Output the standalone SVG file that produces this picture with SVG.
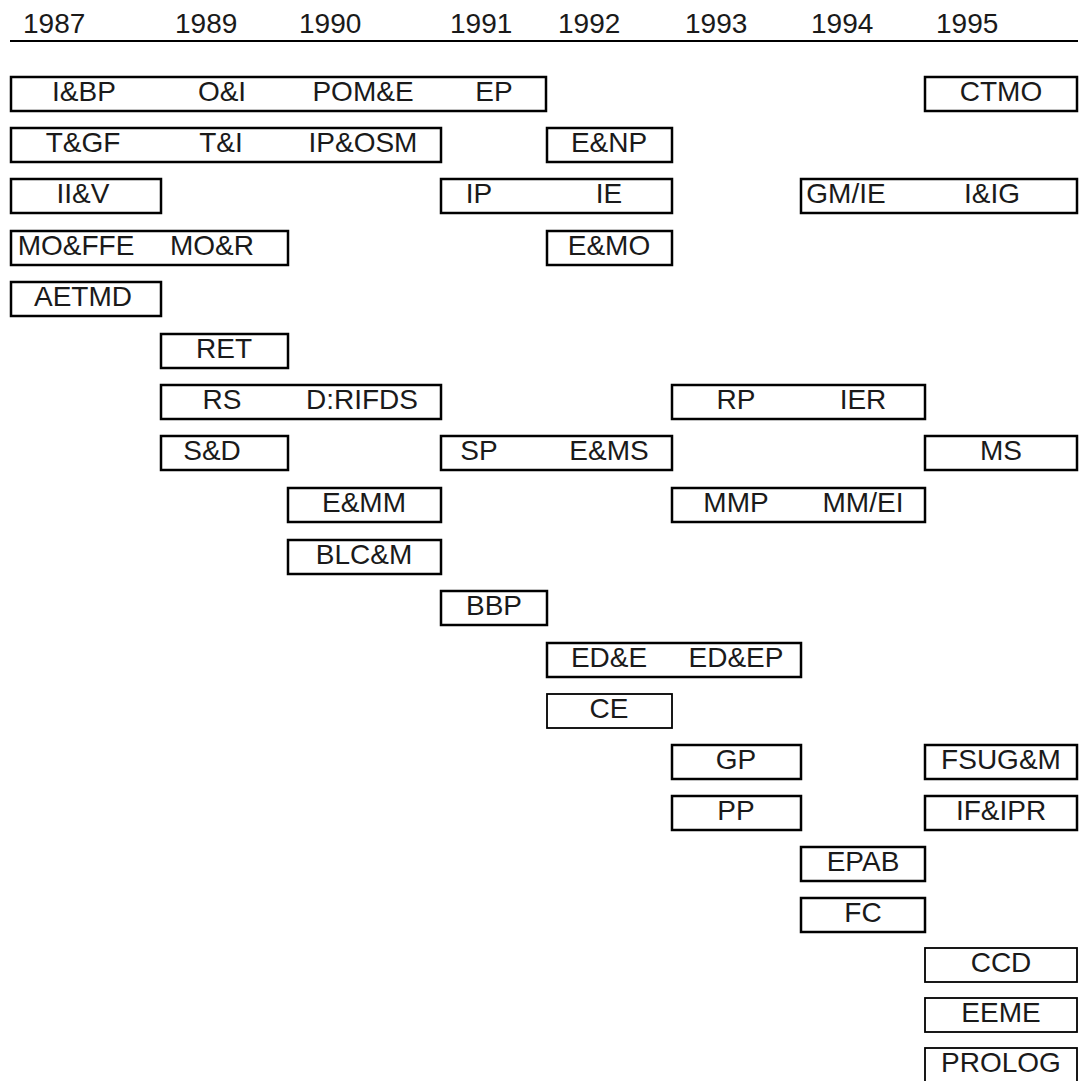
<svg xmlns="http://www.w3.org/2000/svg" width="1080" height="1081" viewBox="0 0 1080 1081">
<style>
.bx{fill:#fff;stroke:#000;stroke-width:2.5}
.t{font-family:"Liberation Sans",Arial,sans-serif;font-size:28px;fill:#1a1a1a;text-anchor:middle}
.y{font-family:"Liberation Sans",Arial,sans-serif;font-size:28px;fill:#1a1a1a}
</style>
<rect width="1080" height="1081" fill="#fff"/>
<g id="years">
<text class="y" x="23" y="33">1987</text>
<text class="y" x="175" y="33">1989</text>
<text class="y" x="299" y="33">1990</text>
<text class="y" x="450" y="33">1991</text>
<text class="y" x="558" y="33">1992</text>
<text class="y" x="685" y="33">1993</text>
<text class="y" x="811" y="33">1994</text>
<text class="y" x="936" y="33">1995</text>
</g>
<g id="connectors">
<line x1="10" y1="41" x2="1078" y2="41" stroke="#000" stroke-width="2"/>
</g>
<g id="n1"><rect class="bx" x="11" y="77" width="535" height="34"/><text class="t" x="84" y="101">I&amp;BP</text><text class="t" x="222" y="101">O&amp;I</text><text class="t" x="363" y="101">POM&amp;E</text><text class="t" x="494" y="101">EP</text></g>
<g id="n2"><rect class="bx" x="925" y="77" width="152" height="34"/><text class="t" x="1001" y="101">CTMO</text></g>
<g id="n3"><rect class="bx" x="11" y="128" width="430" height="34"/><text class="t" x="83" y="152">T&amp;GF</text><text class="t" x="221" y="152">T&amp;I</text><text class="t" x="363" y="152">IP&amp;OSM</text></g>
<g id="n4"><rect class="bx" x="547" y="128" width="125" height="34"/><text class="t" x="609" y="152">E&amp;NP</text></g>
<g id="n5"><rect class="bx" x="11" y="179" width="150" height="34"/><text class="t" x="83" y="203">II&amp;V</text></g>
<g id="n6"><rect class="bx" x="441" y="179" width="231" height="34"/><text class="t" x="479" y="203">IP</text><text class="t" x="609" y="203">IE</text></g>
<g id="n7"><rect class="bx" x="801" y="179" width="276" height="34"/><text class="t" x="846" y="203">GM/IE</text><text class="t" x="992" y="203">I&amp;IG</text></g>
<g id="n8"><rect class="bx" x="11" y="231" width="277" height="34"/><text class="t" x="76" y="255">MO&amp;FFE</text><text class="t" x="212" y="255">MO&amp;R</text></g>
<g id="n9"><rect class="bx" x="547" y="231" width="125" height="34"/><text class="t" x="609" y="255">E&amp;MO</text></g>
<g id="n10"><rect class="bx" x="11" y="282" width="150" height="34"/><text class="t" x="83" y="306">AETMD</text></g>
<g id="n11"><rect class="bx" x="161" y="334" width="127" height="34"/><text class="t" x="224" y="358">RET</text></g>
<g id="n12"><rect class="bx" x="161" y="385" width="280" height="34"/><text class="t" x="222" y="409">RS</text><text class="t" x="362" y="409">D:RIFDS</text></g>
<g id="n13"><rect class="bx" x="672" y="385" width="253" height="34"/><text class="t" x="736" y="409">RP</text><text class="t" x="863" y="409">IER</text></g>
<g id="n14"><rect class="bx" x="161" y="436" width="127" height="34"/><text class="t" x="212" y="460">S&amp;D</text></g>
<g id="n15"><rect class="bx" x="441" y="436" width="231" height="34"/><text class="t" x="479" y="460">SP</text><text class="t" x="609" y="460">E&amp;MS</text></g>
<g id="n16"><rect class="bx" x="925" y="436" width="152" height="34"/><text class="t" x="1001" y="460">MS</text></g>
<g id="n17"><rect class="bx" x="288" y="488" width="153" height="34"/><text class="t" x="364" y="512">E&amp;MM</text></g>
<g id="n18"><rect class="bx" x="672" y="488" width="253" height="34"/><text class="t" x="736" y="512">MMP</text><text class="t" x="863" y="512">MM/EI</text></g>
<g id="n19"><rect class="bx" x="288" y="540" width="153" height="34"/><text class="t" x="364" y="564">BLC&amp;M</text></g>
<g id="n20"><rect class="bx" x="441" y="591" width="106" height="34"/><text class="t" x="494" y="615">BBP</text></g>
<g id="n21"><rect class="bx" x="547" y="643" width="254" height="34"/><text class="t" x="609" y="667">ED&amp;E</text><text class="t" x="736" y="667">ED&amp;EP</text></g>
<g id="n22"><rect class="bx" x="547" y="694" width="125" height="34" style="stroke-width:1.8"/><text class="t" x="609" y="718">CE</text></g>
<g id="n23"><rect class="bx" x="672" y="745" width="129" height="34"/><text class="t" x="736" y="769">GP</text></g>
<g id="n24"><rect class="bx" x="925" y="745" width="152" height="34"/><text class="t" x="1001" y="769">FSUG&amp;M</text></g>
<g id="n25"><rect class="bx" x="672" y="796" width="129" height="34"/><text class="t" x="736" y="820">PP</text></g>
<g id="n26"><rect class="bx" x="925" y="796" width="152" height="34"/><text class="t" x="1001" y="820">IF&amp;IPR</text></g>
<g id="n27"><rect class="bx" x="801" y="847" width="124" height="34"/><text class="t" x="863" y="871">EPAB</text></g>
<g id="n28"><rect class="bx" x="801" y="898" width="124" height="34"/><text class="t" x="863" y="922">FC</text></g>
<g id="n29"><rect class="bx" x="925" y="948" width="152" height="34" style="stroke-width:1.8"/><text class="t" x="1001" y="972">CCD</text></g>
<g id="n30"><rect class="bx" x="925" y="998" width="152" height="34" style="stroke-width:1.8"/><text class="t" x="1001" y="1022">EEME</text></g>
<g id="n31"><rect class="bx" x="925" y="1048" width="152" height="34" style="stroke-width:1.8"/><text class="t" x="1001" y="1072">PROLOG</text></g>
</svg>
